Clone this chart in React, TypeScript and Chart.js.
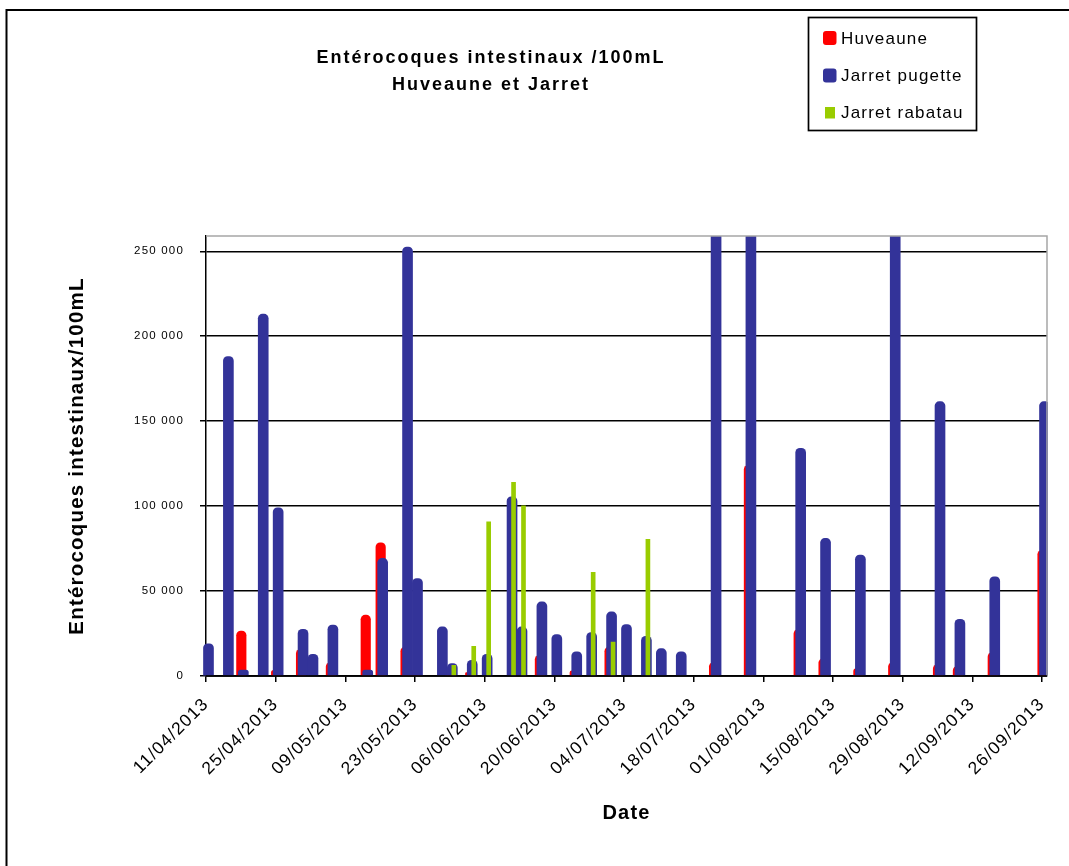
import React, { useEffect, useRef } from 'react';
import { Chart, registerables } from 'chart.js';

Chart.register(...registerables);

// ---------- data ----------
const SAMPLE_DATES = [
  '11/04/2013', '15/04/2013', '18/04/2013', '22/04/2013', '25/04/2013', '30/04/2013',
  '02/05/2013', '06/05/2013', '13/05/2013', '16/05/2013', '21/05/2013', '23/05/2013',
  '28/05/2013', '30/05/2013', '03/06/2013', '06/06/2013', '11/06/2013', '13/06/2013',
  '17/06/2013', '20/06/2013', '24/06/2013', '27/06/2013', '01/07/2013', '04/07/2013',
  '08/07/2013', '11/07/2013', '15/07/2013', '22/07/2013', '29/07/2013', '08/08/2013',
  '13/08/2013', '20/08/2013', '27/08/2013', '05/09/2013', '09/09/2013', '16/09/2013',
  '26/09/2013',
];

const HUVEAUNE: (number | null)[] = [
  null, null, 26500, null, 3400, 15700,
  null, 7900, 35800, 78400, 17000, 3000,
  null, 2000, 2000, null, null, null,
  12200, null, 3000, null, 17000, null,
  null, null, null, 8000, 124000, 27300,
  10200, 4300, 7900, 6700, 5700, 13800,
  74000,
];

const JARRET_PUGETTE: (number | null)[] = [
  19000, 188000, 3500, 213000, 99000, 27500,
  12800, 30000, 3500, 69200, 252500, 57400,
  28900, 7300, 9200, 12800, 105500, 28900,
  43600, 24400, 14200, 25600, 37700, 30300,
  23400, 16100, 14200, 300000, 300000, 134000,
  81000, 71200, 300000, 161500, 33400, 58400,
  161500,
];

const JARRET_RABATAU: (number | null)[] = [
  null, null, null, null, null, null,
  null, null, null, null, null, null,
  null, 6300, 17500, 90800, 114000, 100200,
  null, null, null, 61000, 20000, null,
  80400, null, null, null, null, null,
  null, null, null, null, null, null,
  null,
];

const SERIES_NAMES = ['Huveaune', 'Jarret pugette', 'Jarret rabatau'];

const X_TICK_LABELS = [
  '11/04/2013', '25/04/2013', '09/05/2013', '23/05/2013', '06/06/2013', '20/06/2013',
  '04/07/2013', '18/07/2013', '01/08/2013', '15/08/2013', '29/08/2013', '12/09/2013',
  '26/09/2013',
];

const Y_TICKS = [0, 50000, 100000, 150000, 200000, 250000];
const Y_MAX = 259000;

const TITLE_LINES = ['Entérocoques intestinaux /100mL', 'Huveaune et Jarret'];
const Y_TITLE = 'Entérocoques intestinaux/100mL';
const X_TITLE = 'Date';

// ---------- styles ----------
const COLORS = ['#FF0000', '#333399', '#99CC00'];
const BAR_WIDTHS = [9.5, 10, 4];
const BAR_SHIFT = [-2, 0, 1.5];
const FONT = '"Liberation Sans", Arial, Helvetica, sans-serif';

// ---------- helpers ----------
const DAY = 86400000;
const parseDate = (s: string) => {
  const [d, m, y] = s.split('/').map(Number);
  return Date.UTC(y, m - 1, d);
};
const ORIGIN = parseDate(X_TICK_LABELS[0]);
const dayIndex = (s: string) => Math.round((parseDate(s) - ORIGIN) / DAY);

const toPoints = (vals: (number | null)[]) =>
  SAMPLE_DATES.map((d, i) => (vals[i] == null ? null : { x: dayIndex(d), y: vals[i] as number })).filter(
    (p) => p !== null
  ) as { x: number; y: number }[];

const fmt = (v: number) => String(v).replace(/\B(?=(\d{3})+(?!\d))/g, ' ');

const decorPlugin = {
  id: 'decor',
  beforeDraw(chart: any) {
    const ctx = chart.ctx as CanvasRenderingContext2D;
    ctx.save();
    ctx.fillStyle = '#ffffff';
    ctx.fillRect(0, 0, chart.width, chart.height);
    ctx.strokeStyle = '#000';
    ctx.lineWidth = 2;
    ctx.beginPath();
    ctx.moveTo(6.5, chart.height);
    ctx.lineTo(6.5, 10);
    ctx.lineTo(chart.width, 10);
    ctx.stroke();
    ctx.restore();
    (ctx as any).letterSpacing = '1.2px';
  },
  beforeDatasetDraw(chart: any, args: any) {
    const ctx = chart.ctx as CanvasRenderingContext2D;
    ctx.save();
    ctx.translate(BAR_SHIFT[args.index] || 0, 0);
  },
  afterDatasetDraw(chart: any) {
    chart.ctx.restore();
  },
  afterDatasetsDraw(chart: any) {
    const ctx = chart.ctx as CanvasRenderingContext2D;
    const a = chart.chartArea;
    ctx.save();
    ctx.strokeStyle = '#a6a6a6';
    ctx.lineWidth = 1.5;
    ctx.beginPath();
    ctx.moveTo(a.left, a.top);
    ctx.lineTo(a.right, a.top);
    ctx.lineTo(a.right, a.bottom);
    ctx.stroke();
    ctx.strokeStyle = '#000';
    ctx.lineWidth = 1.5;
    ctx.beginPath();
    ctx.moveTo(a.left, a.bottom);
    ctx.lineTo(a.right, a.bottom);
    ctx.stroke();
    ctx.restore();
  },
  afterDraw(chart: any) {
    const ctx = chart.ctx as CanvasRenderingContext2D;
    ctx.save();
    // title
    ctx.fillStyle = '#000';
    ctx.textAlign = 'center';
    ctx.textBaseline = 'middle';
    (ctx as any).letterSpacing = '2px';
    ctx.font = `bold 18px ${FONT}`;
    ctx.fillText(TITLE_LINES[0], 491, 58);
    ctx.fillText(TITLE_LINES[1], 491, 85);
    // legend
    ctx.strokeStyle = '#000';
    ctx.lineWidth = 1.7;
    ctx.strokeRect(808.5, 17.5, 168, 113);
    const ys = [38, 75.5, 112.5];
    (ctx as any).letterSpacing = '1.2px';
    ctx.font = `17px ${FONT}`;
    ctx.textAlign = 'left';
    SERIES_NAMES.forEach((name, i) => {
      ctx.fillStyle = COLORS[i];
      ctx.beginPath();
      if (i < 2) {
        (ctx as any).roundRect(823, ys[i] - 7, 13.5, 14, 3);
      } else {
        ctx.rect(825, ys[i] - 5.5, 10, 11.5);
      }
      ctx.fill();
      ctx.fillStyle = '#000';
      ctx.fillText(name, 841, ys[i] + 1);
    });
    ctx.restore();
  },
};

export default function App() {
  const ref = useRef<HTMLCanvasElement | null>(null);

  useEffect(() => {
    const canvas = ref.current;
    if (!canvas) return;
    Chart.defaults.font.family = FONT;
    Chart.defaults.color = '#000';

    const xTickValues = X_TICK_LABELS.map((l) => dayIndex(l) - 0.5);
    const xMin = xTickValues[0];
    const xMax = dayIndex(X_TICK_LABELS[X_TICK_LABELS.length - 1]) + 0.5;

    const seriesValues = [HUVEAUNE, JARRET_PUGETTE, JARRET_RABATAU];
    const datasets = seriesValues.map((vals, i) => ({
      label: SERIES_NAMES[i],
      data: toPoints(vals),
      backgroundColor: COLORS[i],
      borderWidth: 0,
      barThickness: BAR_WIDTHS[i],
      grouped: false,
      borderRadius: i < 2 ? 4.5 : 0,
      borderSkipped: 'start',
      order: 3 - i,
      clip: { left: 3, top: 0, right: 1, bottom: 0 },
    }));

    const chart = new Chart(canvas, {
      type: 'bar',
      data: { datasets } as any,
      options: {
        animation: false,
        responsive: false,
        events: [],
        layout: { padding: { left: 0, top: 236, right: 21, bottom: 40 } },
        plugins: {
          legend: { display: false },
          title: { display: false },
          tooltip: { enabled: false },
        },
        scales: {
          x: {
            type: 'linear',
            offset: false,
            min: xMin,
            max: xMax,
            afterBuildTicks: (scale: any) => {
              scale.ticks = xTickValues.map((v) => ({ value: v }));
            },
            afterFit: (scale: any) => {
              scale.height = 150;
            },
            grid: {
              display: true,
              offset: false,
              drawOnChartArea: false,
              drawTicks: true,
              tickLength: 6,
              color: '#000',
              lineWidth: 1.5,
            },
            border: { display: true, color: '#000', width: 1.5 },
            ticks: {
              autoSkip: false,
              minRotation: 45,
              maxRotation: 45,
              padding: 12,
              color: '#000',
              font: { size: 17.5 },
              callback: (_v: any, i: number) => X_TICK_LABELS[i],
            },
            title: {
              display: true,
              text: X_TITLE,
              color: '#000',
              font: { size: 20, weight: 'bold' },
              padding: { top: 0, bottom: 1 },
            },
          },
          y: {
            type: 'linear',
            min: 0,
            max: Y_MAX,
            afterBuildTicks: (scale: any) => {
              scale.ticks = Y_TICKS.map((v) => ({ value: v }));
            },
            afterFit: (scale: any) => {
              scale.width = 206;
            },
            grid: {
              color: '#000',
              lineWidth: 1.5,
              drawTicks: true,
              tickLength: 6,
              tickColor: '#000',
            },
            border: { display: true, color: '#000', width: 1.5 },
            ticks: {
              padding: 16,
              color: '#000',
              font: { size: 11.5 },
              callback: (v: any) => fmt(Number(v)),
            },
            title: {
              display: true,
              text: Y_TITLE,
              color: '#000',
              font: { size: 20.5, weight: 'bold' },
              padding: { top: 65, bottom: 0 },
            },
          },
        },
      } as any,
      plugins: [decorPlugin as any],
    });

    return () => chart.destroy();
  }, []);

  return (
    <div style={{ position: 'absolute', left: 0, top: 0, width: 1069, height: 866, background: '#fff' }}>
      <canvas ref={ref} width={1069} height={866} style={{ display: 'block', width: 1069, height: 866 }} />
    </div>
  );
}
